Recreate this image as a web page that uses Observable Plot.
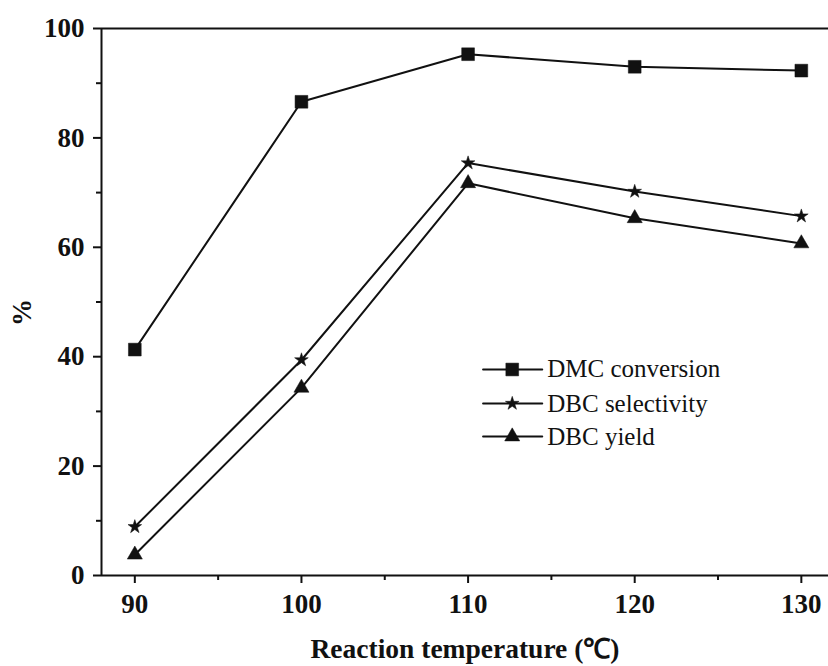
<!DOCTYPE html>
<html><head><meta charset="utf-8">
<script src="https://cdn.jsdelivr.net/npm/d3@7"></script>
<script src="https://cdn.jsdelivr.net/npm/@observablehq/plot@0.6"></script>
<style>
body{margin:0;background:#fff;}
#chart svg, #chart svg text, #chart svg g{font-family:"Liberation Serif","Times New Roman",serif !important;}
</style></head>
<body><div id="chart"></div>
<script>
const temps = [90, 100, 110, 120, 130];
const dmcConversion = [41.3, 86.6, 95.3, 93.0, 92.3];
const dbcSelectivity = [8.9, 39.4, 75.4, 70.2, 65.7];
const dbcYield = [3.8, 34.3, 71.7, 65.3, 60.7];
const seriesNames = ["DMC conversion", "DBC selectivity", "DBC yield"];
const xTicks = [90, 100, 110, 120, 130];
const xMinor = [95, 105, 115, 125];
const yTicks = [0, 20, 40, 60, 80, 100];
const yMinor = [10, 30, 50, 70, 90];
// legend placement in data units
const legendX = [110.9, 112.65, 114.45, 114.75];
const legendY = [37.66, 31.44, 25.4];

const FONT = "Liberation Serif";
const toRows = vals => temps.map((t, i) => ({t, v: vals[i]}));
const dmc = toRows(dmcConversion), sel = toRows(dbcSelectivity), yld = toRows(dbcYield);
const symbols = ["square", "star", "triangle"];
const radii = [7.2, 4.3, 5.6];

const legendRows = seriesNames.map((name, i) => ({name, y: legendY[i], sym: symbols[i], r: radii[i]}));

const marks = [
  Plot.ruleY([0], {stroke: "#111", strokeWidth: 2}),
  Plot.ruleY([100], {stroke: "#111", strokeWidth: 2}),
  Plot.ruleX([88], {stroke: "#111", strokeWidth: 2}),
  Plot.axisX({ticks: xTicks, tickSize: 8, tickPadding: 10, strokeWidth: 2, fontSize: 27, fontWeight: "bold", fontFamily: FONT, label: null}),
  Plot.axisX({ticks: xMinor, tickSize: 5, strokeWidth: 2, text: null, label: null}),
  Plot.axisY({ticks: yTicks, tickSize: 8, tickPadding: 9, strokeWidth: 2, fontSize: 27, fontWeight: "bold", fontFamily: FONT, label: null}),
  Plot.axisY({ticks: yMinor, tickSize: 5, strokeWidth: 2, text: null, label: null}),
];
[dmc, sel, yld].forEach((rows, i) => {
  marks.push(Plot.line(rows, {x: "t", y: "v", stroke: "#111", strokeWidth: 2}));
  marks.push(Plot.dot(rows, {x: "t", y: "v", symbol: () => symbols[i], r: radii[i], fill: "#111", stroke: "#111", strokeWidth: 0.5}));
});
legendRows.forEach((row) => {
  marks.push(Plot.line([{x: legendX[0], y: row.y}, {x: legendX[2], y: row.y}], {x: "x", y: "y", stroke: "#111", strokeWidth: 2}));
  marks.push(Plot.dot([row], {x: () => legendX[1], y: "y", symbol: () => row.sym, r: row.r, fill: "#111", stroke: "#111", strokeWidth: 0.5}));
  marks.push(Plot.text([row], {x: () => legendX[3], y: "y", text: "name", textAnchor: "start", fontSize: 25, fontFamily: FONT, fill: "#111"}));
});

const chart = Plot.plot({
  width: 828, height: 666,
  marginTop: 28, marginBottom: 91, marginLeft: 101, marginRight: 0,
  x: {domain: [88, 131.63]},
  y: {domain: [0, 100]},
  style: {fontFamily: "'Liberation Serif','Times New Roman',serif", color: "#111", background: "#fff"},
  marks: [
    ...marks,
    Plot.text(["Reaction temperature (℃)"], {frameAnchor: "bottom", dy: 82, text: d => d, fontSize: 27.5, fontWeight: "bold", fontFamily: FONT, fill: "#111"}),
    Plot.text(["%"], {frameAnchor: "left", dx: -79, dy: 24, rotate: -90, text: d => d, fontSize: 27, fontWeight: "bold", fontFamily: FONT, fill: "#111"})
  ]
});
document.getElementById("chart").append(chart);
</script></body></html>
